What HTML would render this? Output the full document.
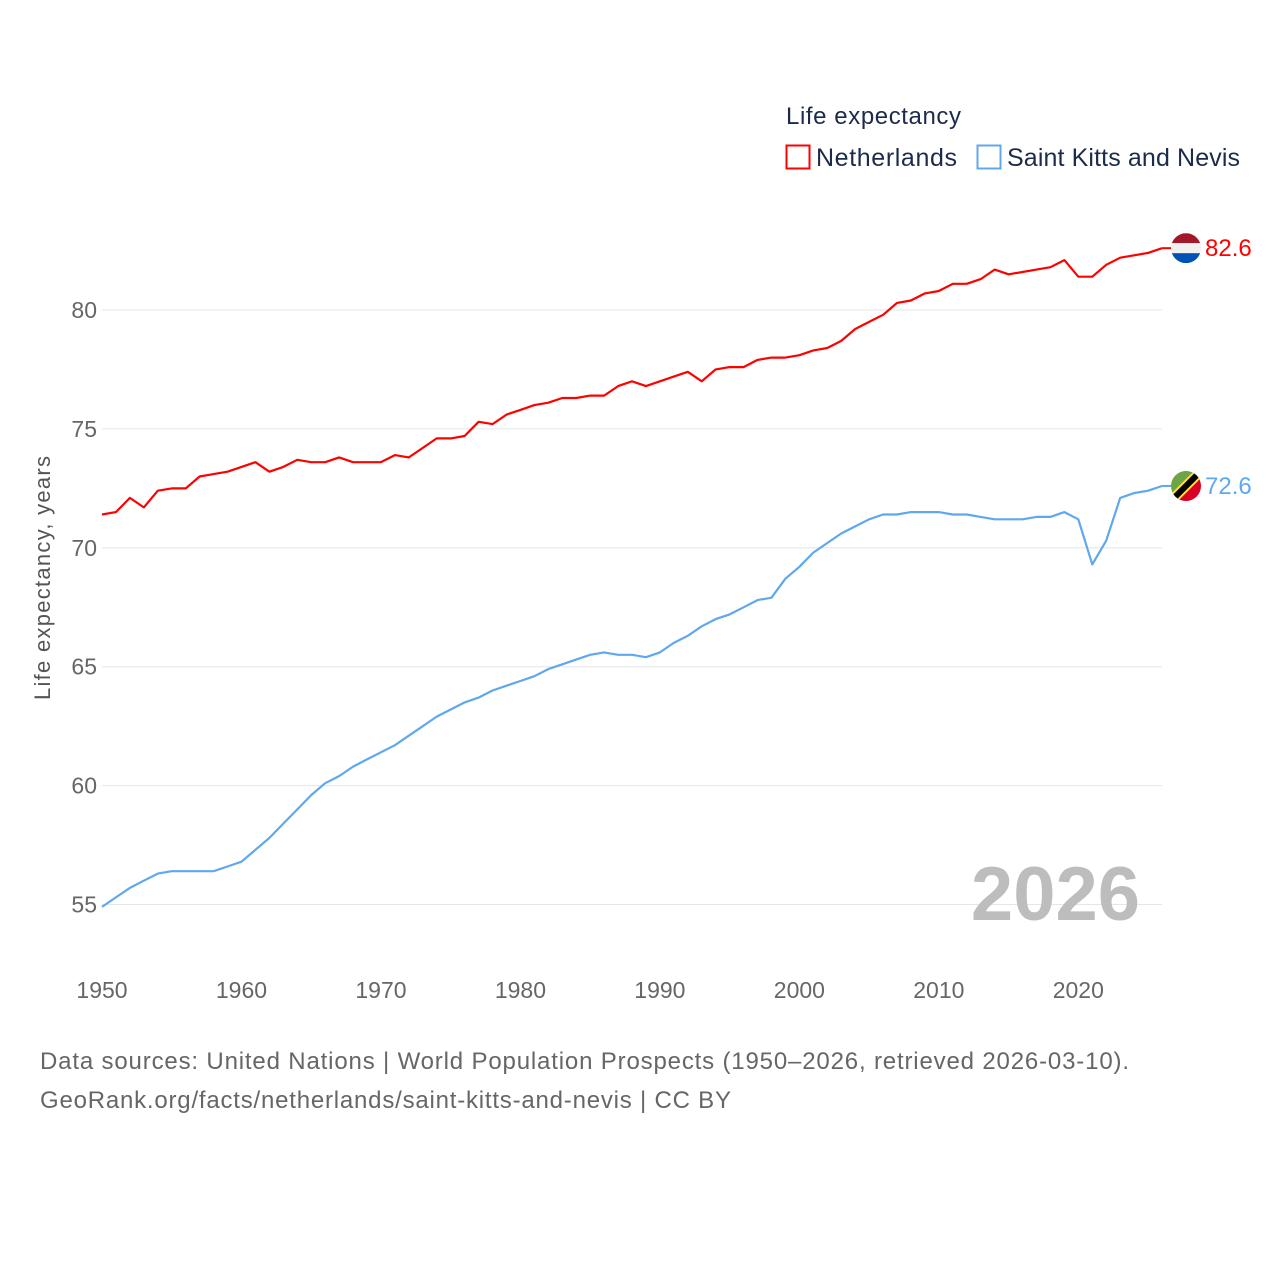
<!DOCTYPE html>
<html><head><meta charset="utf-8"><style>
body{margin:0;background:#fff;font-family:"Liberation Sans",sans-serif}
svg text{font-family:"Liberation Sans",sans-serif}
</style></head><body>
<svg id="chart" width="1280" height="1280" xmlns="http://www.w3.org/2000/svg">
<text x="786" y="124" font-size="24" fill="#1c2b4a" textLength="175">Life expectancy</text>
<g><rect x="786.5" y="145.5" width="23" height="23" fill="none" stroke="#ff0000" stroke-width="2"/><text x="816" y="166" font-size="25" fill="#1c2b4a" textLength="141">Netherlands</text></g>
<g><rect x="977.5" y="145.5" width="23" height="23" fill="none" stroke="#5fa8ee" stroke-width="2"/><text x="1007" y="166" font-size="25" fill="#1c2b4a" textLength="233">Saint Kitts and Nevis</text></g>
<text transform="translate(50,578) rotate(-90)" text-anchor="middle" font-size="22" fill="#555" textLength="244">Life expectancy, years</text>
<g id="grid"></g><g id="xt"></g><g id="lines"></g>
<text x="1140" y="920" text-anchor="end" font-size="76" font-weight="bold" fill="#bdbdbd">2026</text>
<text x="40" y="1069" font-size="24" fill="#666" textLength="1089">Data sources: United Nations | World Population Prospects (1950–2026, retrieved 2026-03-10).</text>
<text x="40" y="1108" font-size="24" fill="#666" textLength="691">GeoRank.org/facts/netherlands/saint-kitts-and-nevis | CC BY</text>
</svg>
<script>
const years=[];for(let y=1950;y<=2026;y++)years.push(y);
const yTicks=[55,60,65,70,75,80];
const xTicks=[1950,1960,1970,1980,1990,2000,2010,2020];
const netherlands=[71.4,71.5,72.1,71.7,72.4,72.5,72.5,73.0,73.1,73.2,73.4,73.6,73.2,73.4,73.7,73.6,73.6,73.8,73.6,73.6,73.6,73.9,73.8,74.2,74.6,74.6,74.7,75.3,75.2,75.6,75.8,76.0,76.1,76.3,76.3,76.4,76.4,76.8,77.0,76.8,77.0,77.2,77.4,77.0,77.5,77.6,77.6,77.9,78.0,78.0,78.1,78.3,78.4,78.7,79.2,79.5,79.8,80.3,80.4,80.7,80.8,81.1,81.1,81.3,81.7,81.5,81.6,81.7,81.8,82.1,81.4,81.4,81.9,82.2,82.3,82.4,82.6];
const saintKitts=[54.9,55.3,55.7,56.0,56.3,56.4,56.4,56.4,56.4,56.6,56.8,57.3,57.8,58.4,59.0,59.6,60.1,60.4,60.8,61.1,61.4,61.7,62.1,62.5,62.9,63.2,63.5,63.7,64.0,64.2,64.4,64.6,64.9,65.1,65.3,65.5,65.6,65.5,65.5,65.4,65.6,66.0,66.3,66.7,67.0,67.2,67.5,67.8,67.9,68.7,69.2,69.8,70.2,70.6,70.9,71.2,71.4,71.4,71.5,71.5,71.5,71.4,71.4,71.3,71.2,71.2,71.2,71.3,71.3,71.5,71.2,69.3,70.3,72.1,72.3,72.4,72.6];
const NS="http://www.w3.org/2000/svg";
const X=y=>102+(y-1950)*(1162-102)/76;
const Y=v=>310+(80-v)*23.78;
function mk(t,a,p){const e=document.createElementNS(NS,t);for(const k in a)e.setAttribute(k,a[k]);p.appendChild(e);return e;}
const g=document.getElementById('grid');
yTicks.forEach(v=>{
 const l=mk('line',{x1:102,x2:1162,y1:Y(v),y2:Y(v),stroke:'#e6e6e6','stroke-width':1},g);
 
 
 const t=mk('text',{x:97,y:Y(v)+8,'text-anchor':'end','font-size':23,fill:'#666'},g);t.textContent=v;
 
 
});
const xt=document.getElementById('xt');
xTicks.forEach(v=>{
 const t=mk('text',{x:X(v),y:998,'text-anchor':'middle','font-size':23,fill:'#666'},xt);t.textContent=v;
 
 
});
const L=document.getElementById('lines');
function series(data,color,name){
 const d=data.map((v,i)=>(i?'L':'M')+X(years[i]).toFixed(1)+' '+Y(v).toFixed(1)).join(' ');
 const p=mk('path',{d:d,fill:'none',stroke:color,'stroke-width':2.2,'stroke-linejoin':'round'},L);
 
 
 const last=data[data.length-1],cy=Y(last);
 mk('line',{x1:1162,x2:1172,y1:cy,y2:cy,stroke:color,'stroke-width':2},L);
 const t=mk('text',{x:1205,y:cy+8,'font-size':24,fill:color},L);t.textContent=last.toFixed(1);
 
 
 return cy;
}
const cn=series(netherlands,'#ff0000','netherlands');
const cs=series(saintKitts,'#5fa8ee','saint-kitts');
const defs=mk('defs',{},document.getElementById('chart'));
const cp=mk('clipPath',{id:'c1'},defs);mk('circle',{cx:1186,cy:cn,r:15},cp);
const cp2=mk('clipPath',{id:'c2'},defs);mk('circle',{cx:1186,cy:cs,r:15},cp2);
const f1=mk('g',{'clip-path':'url(#c1)'},L);


mk('rect',{x:1171,y:cn-15,width:30,height:10,fill:'#a3172b'},f1);
mk('rect',{x:1171,y:cn-5,width:30,height:10,fill:'#f0f0f0'},f1);
mk('rect',{x:1171,y:cn+5,width:30,height:10,fill:'#0051b4'},f1);
const f2=mk('g',{'clip-path':'url(#c2)'},L);


mk('polygon',{points:`1171,${cs-15} 1201,${cs-15} 1171,${cs+15}`,fill:'#6da544'},f2);
mk('polygon',{points:`1201,${cs-15} 1201,${cs+15} 1171,${cs+15}`,fill:'#d80027'},f2);
mk('line',{x1:1171,y1:cs+15,x2:1201,y2:cs-15,stroke:'#ffda44','stroke-width':10},f2);
mk('line',{x1:1171,y1:cs+15,x2:1201,y2:cs-15,stroke:'#000','stroke-width':6},f2);
</script>
</body></html>
